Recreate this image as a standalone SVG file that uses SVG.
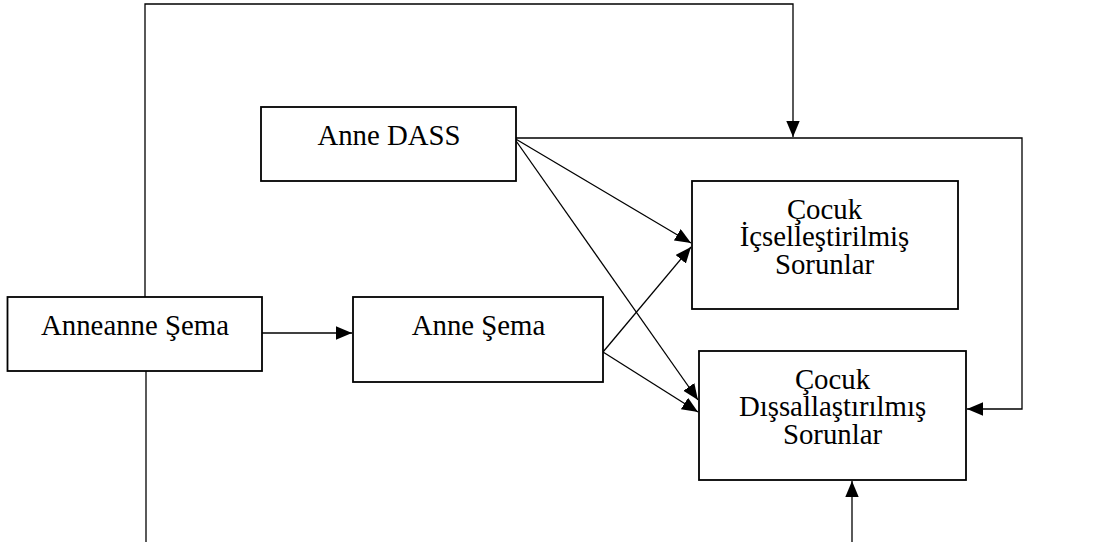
<svg xmlns="http://www.w3.org/2000/svg" width="1097" height="542" viewBox="0 0 1097 542">
<style>
.box{fill:#fff;stroke:#000;stroke-width:1.8}
.lbl{font-family:"Liberation Serif","Times New Roman",serif;font-size:28.8px;fill:#000;text-anchor:middle}
.con{fill:none;stroke:#000;stroke-width:1.3}
</style>
<defs>
<marker id="ah" markerUnits="userSpaceOnUse" markerWidth="17" markerHeight="14" refX="16" refY="6.7" orient="auto">
<path d="M0,0 L16,6.7 L0,13.4 z" fill="#000"/>
</marker>
</defs>
<rect width="1097" height="542" fill="#fff"/>
<g id="connectors">
<polyline class="con" points="145,297 145,4 793,4 793,137" marker-end="url(#ah)"/>
<line class="con" x1="146" y1="371" x2="146" y2="542"/>
<line class="con" x1="852" y1="542" x2="852" y2="481" marker-end="url(#ah)"/>
<polyline class="con" points="516,138 1022,138 1022,409 967,409" marker-end="url(#ah)"/>
<line class="con" x1="262" y1="333" x2="352" y2="333" marker-end="url(#ah)"/>
<line class="con" x1="514" y1="138" x2="691" y2="243" marker-end="url(#ah)"/>
<line class="con" x1="514" y1="138" x2="698" y2="400" marker-end="url(#ah)"/>
<line class="con" x1="603" y1="352" x2="691" y2="247" marker-end="url(#ah)"/>
<line class="con" x1="603" y1="352" x2="698" y2="412" marker-end="url(#ah)"/>
</g>
<g id="anne-dass">
<rect class="box" x="261" y="107" width="255" height="74"/>
<text class="lbl" x="389" y="144.5">Anne DASS</text>
</g>
<g id="anneanne-sema">
<rect class="box" x="7.5" y="297" width="254.5" height="74"/>
<text class="lbl" x="135" y="334.5">Anneanne Şema</text>
</g>
<g id="anne-sema">
<rect class="box" x="353" y="297" width="250" height="85"/>
<text class="lbl" x="478.5" y="334.5">Anne Şema</text>
</g>
<g id="cocuk-icsel">
<rect class="box" x="692" y="181" width="266" height="128"/>
<text class="lbl"><tspan x="824.5" y="218.5">Çocuk</tspan><tspan x="824.5" y="246">İçselleştirilmiş</tspan><tspan x="824.5" y="274">Sorunlar</tspan></text>
</g>
<g id="cocuk-dissal">
<rect class="box" x="699" y="351" width="267" height="129"/>
<text class="lbl"><tspan x="832.5" y="388.5">Çocuk</tspan><tspan x="832.5" y="416">Dışsallaştırılmış</tspan><tspan x="832.5" y="444">Sorunlar</tspan></text>
</g>
</svg>
